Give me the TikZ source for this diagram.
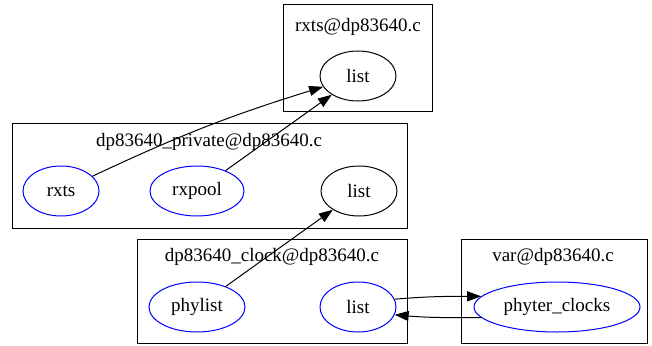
\documentclass[tikz,border=0pt]{standalone}
\usepackage{fontspec}
\setmainfont{Liberation Serif}
\usetikzlibrary{shapes.geometric,arrows.meta}
\begin{document}
\begin{tikzpicture}[x=1pt,y=-1pt,
  every node/.style={font=\fontsize{19}{22}\selectfont},
  nd/.style={ellipse,draw,line width=1pt,inner sep=0pt,minimum height=50pt},
  bnd/.style={nd,draw=blue},
  clus/.style={draw,line width=1pt},
  lbl/.style={inner sep=0pt,anchor=base},
  edge/.style={line width=1pt,-{Triangle[length=14pt,width=10pt]}}]
\useasboundingbox (0,0) rectangle (652,345);
% clusters
\draw[clus] (283,5) rectangle (432,111);
\node[lbl] (l1) at (358,31) {rxts@dp83640.c};
\draw[clus] (12,123) rectangle (407,228);
\node[lbl] (l2) at (209,146) {dp83640\_private@dp83640.c};
\draw[clus] (137,239) rectangle (407,343);
\node[lbl] (l3) at (272,261) {dp83640\_clock@dp83640.c};
\draw[clus] (461,239) rectangle (647,343);
\node[lbl] (l4) at (553,261) {var@dp83640.c};
% nodes
\node[nd,minimum width=76pt] (list1) at (358,76) {list};
\node[bnd,minimum width=76pt] (rxts) at (61,191) {rxts};
\node[bnd,minimum width=94pt] (rxpool) at (197,191) {rxpool};
\node[nd,minimum width=76pt] (list2) at (359,191) {list};
\node[bnd,minimum width=96pt] (phylist) at (197,307) {phylist};
\node[bnd,minimum width=76pt] (list3) at (358,307) {list};
\node[bnd,minimum width=166pt] (phyter) at (557,307) {phyter\_clocks};
% edges
\draw[edge] (rxts) to[bend left=4] (list1);
\draw[edge] (rxpool) -- (list1);
\draw[edge] (phylist) -- (list2);
\draw[edge] (list3.12) to[out=5,in=180] (phyter.172);
\draw[edge] (phyter.188) to[out=180,in=-5] (list3.-12);
\end{tikzpicture}
\end{document}
